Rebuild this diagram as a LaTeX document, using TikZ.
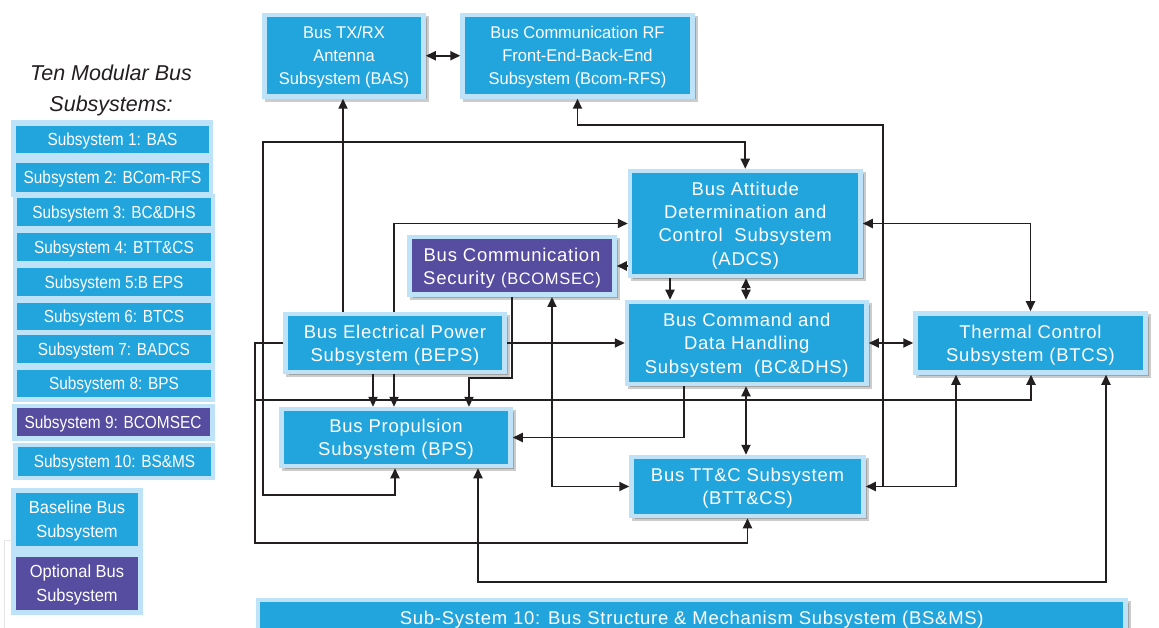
\documentclass[tikz,border=0pt]{standalone}
\usepackage{fontspec}
\setmainfont{Liberation Sans}
\newfontfamily\listfont{Liberation Sans}[FakeStretch=0.88]
\newfontfamily\topfont{Liberation Sans}[FakeStretch=0.97]
\newfontfamily\legendfont{Liberation Sans}[FakeStretch=0.94]
\newfontfamily\widefont{Liberation Sans}[LetterSpace=4]
\usetikzlibrary{arrows.meta,shadows}

\definecolor{busblue}{RGB}{34,165,221}
\definecolor{buslight}{RGB}{190,226,247}
\definecolor{buspurple}{RGB}{86,76,160}
\definecolor{ink}{RGB}{35,31,32}

\tikzset{
  mainbox/.style={fill=busblue, draw=buslight, line width=4.5pt, text=white,
    align=center, inner sep=0pt, text depth=0pt,
    font=\widefont\fontsize{18.5}{23.3}\selectfont,
    drop shadow={shadow xshift=3pt, shadow yshift=-3pt, fill=black,
      draw=black, line width=4.5pt, opacity=0.2}},
  topbox/.style={mainbox, font=\topfont\fontsize{17}{23}\selectfont},
  optbox/.style={mainbox, fill=buspurple},
  listbox/.style={fill=busblue, text=white, inner sep=0pt, text depth=0pt,
    font=\listfont\fontsize{17.5}{22}\selectfont},
  legendbox/.style={fill=busblue, text=white, inner sep=0pt, align=center,
    text depth=0pt, font=\legendfont\fontsize{17.5}{24}\selectfont},
  oneway/.style={draw=ink, line width=1.9pt, -{Triangle[length=10pt,width=9pt]}},
  twoway/.style={draw=ink, line width=1.9pt,
    {Triangle[length=10pt,width=9pt]}-{Triangle[length=10pt,width=9pt]}},
}

\begin{document}
\begin{tikzpicture}[x=1pt, y=-1pt]
  \fill[white] (0,0) rectangle (1159,628);
  \useasboundingbox (0,0) rectangle (1159,628);

  % ---- legend column ----
  \node[font=\itshape\fontsize{21.5}{31}\selectfont, text=ink, align=center]
    (title) at (111,90.5) {Ten Modular Bus\\Subsystems:};

  \fill[buslight] (11,120) rectangle (213,197);
  \fill[buslight] (13,194) rectangle (215,402);
  \fill[buslight] (12,404) rectangle (215,441);
  \fill[buslight] (13,443) rectangle (215,480);
  \fill[buslight] (11,488) rectangle (143,615);

  \node[listbox, minimum width=193pt, minimum height=27pt] (l1) at (112.5,139.5) {Subsystem 1: BAS};
  \node[listbox, minimum width=193pt, minimum height=29pt] (l2) at (112.5,177.5) {Subsystem 2: BCom-RFS};
  \node[listbox, minimum width=194pt, minimum height=28pt] (l3) at (114,212) {Subsystem 3: BC\&DHS};
  \node[listbox, minimum width=194pt, minimum height=28pt] (l4) at (114,247) {Subsystem 4: BTT\&CS};
  \node[listbox, minimum width=194pt, minimum height=28pt] (l5) at (114,282) {Subsystem 5:B EPS};
  \node[listbox, minimum width=194pt, minimum height=27pt] (l6) at (114,316.5) {Subsystem 6: BTCS};
  \node[listbox, minimum width=194pt, minimum height=28pt] (l7) at (114,349) {Subsystem 7: BADCS};
  \node[listbox, minimum width=194pt, minimum height=27pt] (l8) at (114,383.5) {Subsystem 8: BPS};
  \node[listbox, fill=buspurple, minimum width=193pt, minimum height=28pt] (l9) at (113,422) {Subsystem 9: BCOMSEC};
  \node[listbox, minimum width=193pt, minimum height=29pt] (l10) at (114.5,461.5) {Subsystem 10: BS\&MS};

  \node[legendbox, minimum width=122pt, minimum height=53pt] (base) at (77,519.5) {Baseline Bus\\Subsystem};
  \node[legendbox, fill=buspurple, minimum width=122pt, minimum height=53pt] (opt) at (77,583.5) {Optional Bus\\Subsystem};

  \draw[black!10, line width=1pt] (12,540) -- (4,540) -- (4,628);

  % ---- subsystem blocks ----
  \node[topbox, minimum width=159pt, minimum height=81.5pt] (bas) at (344,55.75)
    {Bus TX/RX\\Antenna\\Subsystem (BAS)};
  \node[topbox, minimum width=230pt, minimum height=81.5pt] (rfs) at (577.5,55.75)
    {Bus Communication RF\\Front-End-Back-End\\Subsystem (Bcom-RFS)};
  \node[mainbox, minimum width=230.5pt, minimum height=105pt] (adcs) at (745.25,223.5)
    {Bus Attitude\\Determination and\\Control\ \ Subsystem\\(ADCS)};
  \node[optbox, minimum width=205pt, minimum height=57.5pt] (bcomsec) at (512,266)
    {Bus Communication\\Security {\fontsize{16.5}{23}\selectfont(BCOMSEC)}};
  \node[mainbox, minimum width=219pt, minimum height=58pt] (beps) at (395,343)
    {Bus Electrical Power\\Subsystem (BEPS)};
  \node[mainbox, minimum width=239.5pt, minimum height=82pt] (bcdhs) at (746.75,343)
    {Bus Command and\\Data Handling\\Subsystem\ \ (BC\&DHS)};
  \node[mainbox, minimum width=230pt, minimum height=59pt] (btcs) at (1030.5,343)
    {Thermal Control\\Subsystem (BTCS)};
  \node[mainbox, minimum width=229pt, minimum height=57pt] (bps) at (396,437.5)
    {Bus Propulsion\\Subsystem (BPS)};
  \node[mainbox, minimum width=232pt, minimum height=59pt] (ttc) at (747.5,486.5)
    {Bus TT\&C Subsystem\\(BTT\&CS)};
  \node[mainbox, minimum width=867.5pt, minimum height=36pt] (bsms) at (691.75,618)
    {Sub-System 10: Bus Structure \& Mechanism Subsystem (BS\&MS)};

  % ---- interfaces ----
  \draw[twoway] (bas.east) -- (rfs.west);
  \draw[oneway] (343,0 |- beps.north) -- (343,0 |- bas.south);

  \coordinate (ttcjoint) at (883,0 |- ttc.east);
  \draw[twoway] (ttc.east) -| (956,0 |- btcs.south);
  \draw[oneway] (ttcjoint) -- (883,125) -| (rfs.south);

  \draw[twoway] (adcs.north) |- (263,142) |- (395,495) -- (395,0 |- bps.south);

  \draw[oneway] (beps.west) -| (255,543) -| (ttc.south);
  \coordinate (epsjoint) at (255,400);
  \draw[oneway] (epsjoint) -| (1031,0 |- btcs.south);

  \draw[oneway] (394,0 |- beps.north) |- (adcs.west);
  \draw[twoway] (btcs.north) |- (adcs.east);
  \draw[oneway] (adcs.west |- bcomsec.east) -- (bcomsec.east);

  \draw[oneway] (670,0 |- adcs.south) -- (670,0 |- bcdhs.north);
  \draw[twoway] (746,0 |- adcs.south) -- (746,0 |- bcdhs.north);
  \draw[twoway] (bcdhs.east) -- (bcdhs.east -| btcs.west);
  \draw[oneway] (beps.east) -- (beps.east -| bcdhs.west);
  \draw[twoway] (746,0 |- bcdhs.south) -- (746,0 |- ttc.north);
  \draw[oneway] (684,0 |- bcdhs.south) |- (bps.east);

  \draw[oneway] (373,0 |- beps.south) -- (373,0 |- bps.north);
  \draw[oneway] (394,0 |- beps.south) -- (394,0 |- bps.north);
  \draw[oneway] (bcomsec.south) |- (469,378) -- (469,0 |- bps.north);
  \draw[twoway] (552,0 |- bcomsec.south) |- (ttc.west);
  \draw[twoway] (478,0 |- bps.south) |- (1106,582) -- (1106,0 |- btcs.south);
\end{tikzpicture}
\end{document}
